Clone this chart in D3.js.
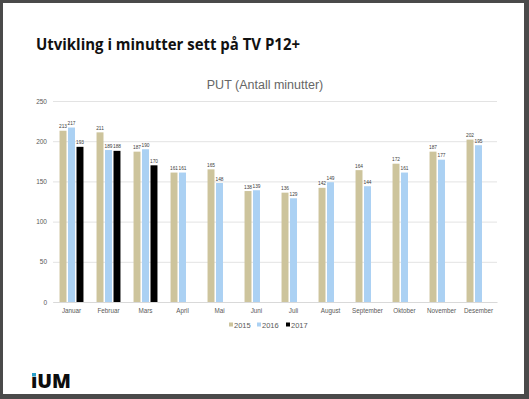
<!DOCTYPE html>
<html>
<head>
<meta charset="utf-8">
<script src="https://cdn.jsdelivr.net/npm/d3@7"></script>
<style>
  body { margin: 0; background: #fff; }
  svg { display: block; }
</style>
</head>
<body>
<div id="chart"></div>
<script>
// ********** DATA **********
const months = ["Januar", "Februar", "Mars", "April", "Mai", "Juni", "Juli", "August", "September", "Oktober", "November", "Desember"];
const years = ["2015", "2016", "2017"];
const values2015 = [213, 211, 187, 161, 165, 138, 136, 142, 164, 172, 187, 202];
const values2016 = [217, 189, 190, 161, 148, 139, 129, 149, 144, 161, 177, 195];
const values2017 = [193, 188, 170, null, null, null, null, null, null, null, null, null];
const yTicks = [0, 50, 100, 150, 200, 250];

const colors = { "2015": "#cdc49c", "2016": "#abd1f3", "2017": "#000000" };

const width = 529, height = 399;

const svg = d3.select("#chart")
	.append("svg")
	.attr("width", width)
	.attr("height", height);

// frame around the slide
svg.append("rect")
	.attr("x", 0).attr("y", 0)
	.attr("width", width).attr("height", height)
	.style("fill", "#4a4a4a");
svg.append("rect")
	.attr("x", 3).attr("y", 3)
	.attr("width", 521).attr("height", 391)
	.style("fill", "#fff");

// title
svg.append("text")
	.attr("x", 36).attr("y", 50)
	.attr("textLength", 264)
	.attr("lengthAdjust", "spacingAndGlyphs")
	.style("font-family", "'Open Sans', sans-serif")
	.style("font-weight", "bold")
	.style("font-size", "16px")
	.style("fill", "#111")
	.text("Utvikling i minutter sett på TV P12+");

svg.append("text")
	.attr("x", 265).attr("y", 89)
	.attr("text-anchor", "middle")
	.style("font-family", "'Liberation Sans', Arial, sans-serif")
	.style("font-size", "12.5px")
	.style("fill", "#666")
	.text("PUT (Antall minutter)");

// scales
const x0 = d3.scaleBand().domain(months).range([53, 497]);
const x1 = d3.scaleBand().domain(years).range([0, x0.bandwidth()])
	.paddingInner(0.18).paddingOuter(0.77);
const y = d3.scaleLinear().domain([0, 250]).range([302, 101]);

// gridlines + y labels
const yAxis = svg.append("g")
	.attr("transform", "translate(53,0)")
	.call(d3.axisLeft(y).tickValues(yTicks).tickSize(-(497 - 53)).tickPadding(6));
yAxis.select(".domain").remove();
yAxis.selectAll(".tick line").style("stroke", "#e3e3e3").style("stroke-width", 1);
yAxis.selectAll(".tick text")
	.style("font-family", "'Liberation Sans', Arial, sans-serif")
	.style("font-size", "6.5px")
	.style("fill", "#595959");

// bars
const rows = months.map((m, i) => ({
	month: m,
	vals: [values2015[i], values2016[i], values2017[i]]
}));

const groups = svg.selectAll("g.month")
	.data(rows)
	.enter()
	.append("g")
	.attr("class", "month")
	.attr("transform", d => `translate(${x0(d.month)},0)`);

const cells = groups.selectAll("g.bar")
	.data(d => years.map((yr, j) => ({ year: yr, value: d.vals[j] })).filter(e => e.value !== null))
	.enter()
	.append("g")
	.attr("class", "bar");

cells.append("rect")
	.attr("x", d => x1(d.year))
	.attr("y", d => y(d.value))
	.attr("width", x1.bandwidth())
	.attr("height", d => y(0) - y(d.value))
	.style("fill", d => colors[d.year]);

cells.append("text")
	.attr("x", d => x1(d.year) + x1.bandwidth() / 2)
	.attr("y", d => y(d.value) - 2.5)
	.attr("text-anchor", "middle")
	.style("font-family", "'Liberation Sans', Arial, sans-serif")
	.style("font-size", "4.8px")
	.style("fill", "#404040")
	.text(d => d.value);

// x axis
const xAxis = svg.append("g")
	.attr("transform", "translate(0,302)")
	.call(d3.axisBottom(x0).tickSize(0).tickPadding(7));
xAxis.select(".domain").style("stroke", "#d9d9d9");
xAxis.selectAll(".tick text")
	.style("font-family", "'Liberation Sans', Arial, sans-serif")
	.style("font-size", "6.3px")
	.style("fill", "#595959");

// legend
const legendX = [229, 257, 286];
const legend = svg.selectAll("g.legend")
	.data(years)
	.enter()
	.append("g")
	.attr("class", "legend")
	.attr("transform", (d, i) => `translate(${legendX[i]},325)`);
legend.append("rect")
	.attr("x", 0).attr("y", -2.5)
	.attr("width", 4).attr("height", 4)
	.style("fill", d => colors[d]);
legend.append("text")
	.attr("x", 5).attr("y", 2.6)
	.style("font-family", "'Liberation Sans', Arial, sans-serif")
	.style("font-size", "7.5px")
	.style("fill", "#595959")
	.text(d => d);

// logo
const logo = svg.append("text")
	.attr("x", 31).attr("y", 388)
	.attr("textLength", 40)
	.attr("lengthAdjust", "spacingAndGlyphs")
	.style("font-family", "'Open Sans', sans-serif")
	.style("font-weight", "800")
	.style("font-size", "20px")
	.style("fill", "#0d0d0d");
logo.append("tspan").text("ı");
logo.append("tspan").text("UM");
svg.append("rect")
	.attr("x", 32).attr("y", 373)
	.attr("width", 4).attr("height", 3.5)
	.style("fill", "#2b9fc9");
</script>
</body>
</html>
